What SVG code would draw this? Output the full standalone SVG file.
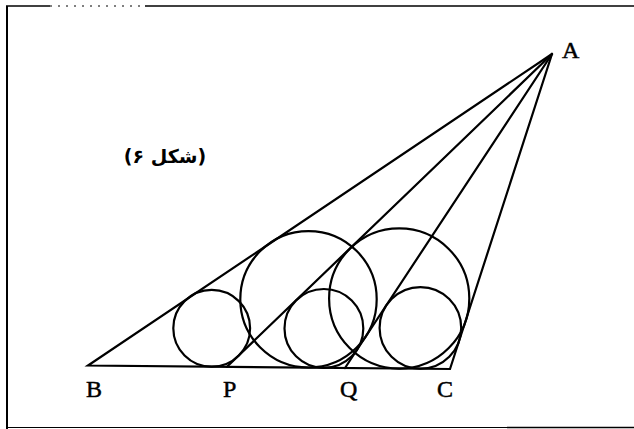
<svg xmlns="http://www.w3.org/2000/svg" width="634" height="429" viewBox="0 0 634 429">
<style>
.ln{stroke:#000;stroke-width:2.2;fill:none;stroke-linecap:round}
.ci{stroke:#000;stroke-width:2.2;fill:none}
.lb{font-family:"Liberation Serif","Times New Roman",serif;font-size:24px;fill:#000;stroke:#000;stroke-width:0.5}
.fr{stroke:#000;fill:none}
</style>
<rect width="634" height="429" fill="#fff"/>
<g id="frame">
<line class="fr" x1="7" y1="6" x2="7" y2="429" stroke-width="2"/>
<line class="fr" x1="6" y1="6" x2="50" y2="6" stroke-width="1.5"/>
<line class="fr" x1="50" y1="6" x2="145" y2="6" stroke-width="1" stroke-dasharray="2 6"/>
<line class="fr" x1="145" y1="6" x2="634" y2="6" stroke-width="1.5"/>
<line class="fr" x1="7" y1="427.5" x2="507" y2="427.5" stroke="#bbb" stroke-width="1"/>
<line class="fr" x1="507" y1="427.5" x2="634" y2="427.5" stroke-width="1.5"/>
</g>
<g id="lines">
<polyline class="ln" points="552,54 88,365.5 450,369 552,54" stroke-linejoin="miter"/>
<line class="ln" x1="552" y1="54" x2="227" y2="366.8"/>
<line class="ln" x1="552" y1="54" x2="345" y2="368"/>
</g>
<g id="circles">
<circle class="ci" cx="211.7" cy="328.3" r="38.4"/>
<circle class="ci" cx="323.9" cy="328.4" r="39.4"/>
<circle class="ci" cx="420.4" cy="327.9" r="40.8"/>
<circle class="ci" cx="308.5" cy="299.3" r="68.2"/>
<circle class="ci" cx="399.2" cy="298.5" r="70.1"/>
</g>
<g id="labels">
<text class="lb" x="562" y="58">A</text>
<text class="lb" x="86" y="397">B</text>
<text class="lb" x="223" y="397">P</text>
<text class="lb" x="340" y="397">Q</text>
<text class="lb" x="437" y="397">C</text>
<text x="165" y="163" text-anchor="middle" direction="rtl" font-family="DejaVu Sans, sans-serif" font-weight="bold" font-size="19">(شکل ۶)</text>
</g>
</svg>
